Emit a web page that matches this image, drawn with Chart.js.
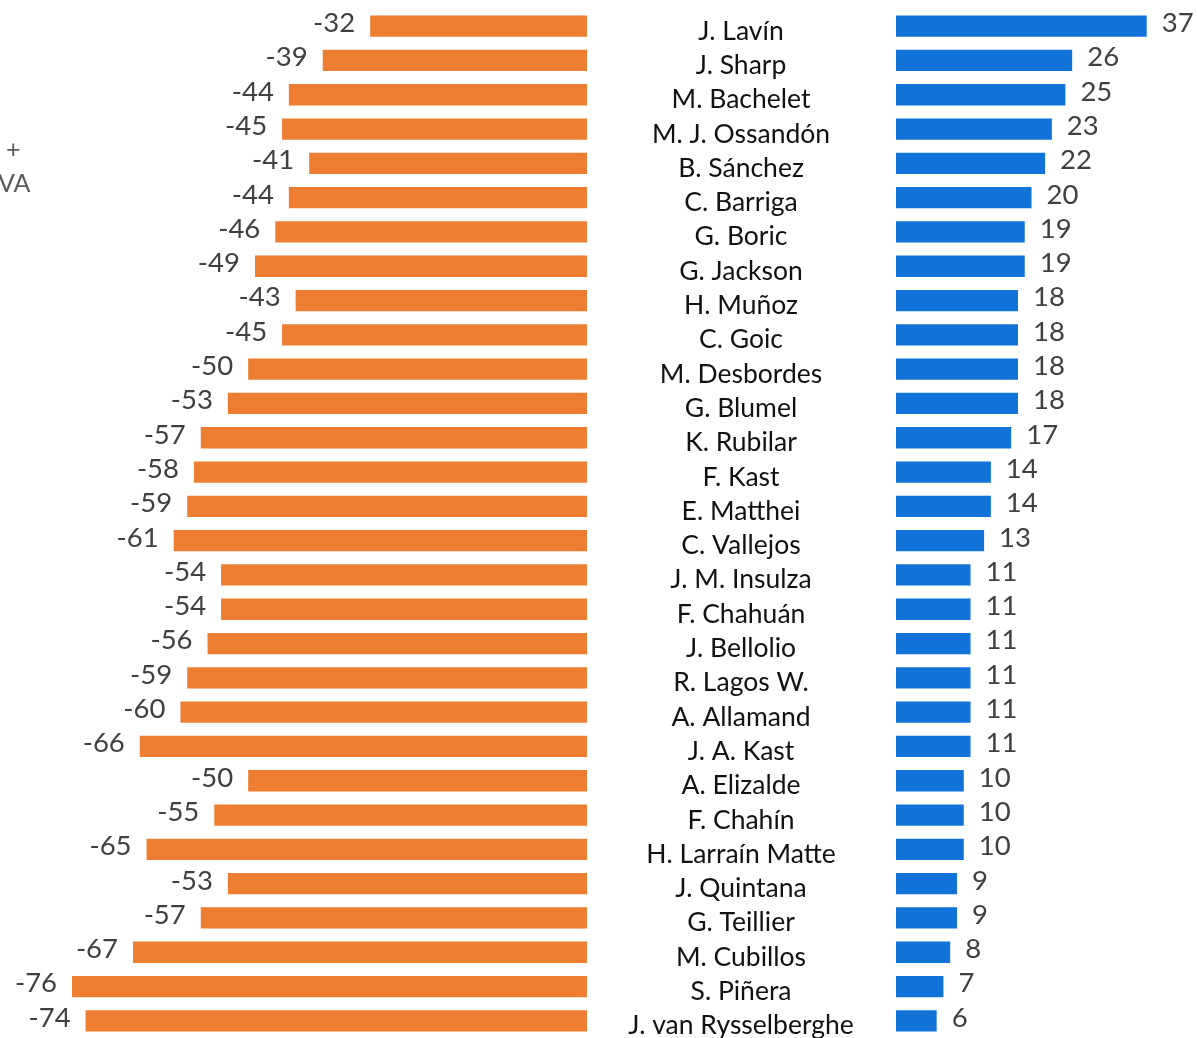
<!DOCTYPE html>
<html>
<head>
<meta charset="utf-8">
<script src="https://cdn.jsdelivr.net/npm/chart.js@4/dist/chart.umd.min.js"></script>
<style>
  html, body { margin: 0; padding: 0; background: #fff; overflow: hidden; }
  #wrap { position: relative; width: 1197px; height: 1038px; }
  #negChart { position: absolute; left: 0; top: 0; }
  #posChart { position: absolute; left: 590px; top: 0; }
  .side { position: absolute; font-family: Lato, "Open Sans", sans-serif; color: #595959; font-size: 25px; }
</style>
</head>
<body>
<div id="wrap">
  <canvas id="negChart" width="590" height="1038"></canvas>
  <canvas id="posChart" width="607" height="1038"></canvas>
  <div class="side" style="left:6px; top:133px;">+</div>
  <div class="side" style="left:-2px; top:167px;">VA</div>
</div>
<script>
const names = [
  'J. Lavín', 'J. Sharp', 'M. Bachelet', 'M. J. Ossandón', 'B. Sánchez', 'C. Barriga',
  'G. Boric', 'G. Jackson', 'H. Muñoz', 'C. Goic', 'M. Desbordes', 'G. Blumel',
  'K. Rubilar', 'F. Kast', 'E. Matthei', 'C. Vallejos', 'J. M. Insulza', 'F. Chahuán',
  'J. Bellolio', 'R. Lagos W.', 'A. Allamand', 'J. A. Kast', 'A. Elizalde', 'F. Chahín',
  'H. Larraín Matte', 'J. Quintana', 'G. Teillier', 'M. Cubillos', 'S. Piñera', 'J. van Rysselberghe',
];
const negatives = [
  -32, -39, -44, -45, -41, -44, -46, -49, -43, -45, -50, -53, -57, -58, -59,
  -61, -54, -54, -56, -59, -60, -66, -50, -55, -65, -53, -57, -67, -76, -74,
];
const positives = [
  37, 26, 25, 23, 22, 20, 19, 19, 18, 18, 18, 18, 17, 14, 14,
  13, 11, 11, 11, 11, 11, 11, 10, 10, 10, 9, 9, 8, 7, 6,
];

const ORANGE = '#ED7D31';
const BLUE = '#1172D8';
const FONT = 'Lato, "Open Sans", sans-serif';

// draws the number at the outer end of each bar
const valueLabels = {
  id: 'valueLabels',
  afterDatasetsDraw(chart) {
    const { ctx } = chart;
    const meta = chart.getDatasetMeta(0);
    const data = chart.data.datasets[0].data;
    ctx.save();
    ctx.font = `27.5px ${FONT}`;
    ctx.fillStyle = '#404040';
    ctx.textBaseline = 'middle';
    meta.data.forEach((bar, i) => {
      const v = data[i];
      if (v < 0) {
        ctx.textAlign = 'right';
        ctx.fillText(String(v), bar.x - 15, bar.y - 3);
      } else {
        ctx.textAlign = 'left';
        ctx.fillText(String(v), bar.x + 15, bar.y - 3);
      }
    });
    ctx.restore();
  },
};

// names in the gap between the two charts, centred
const nameLabels = {
  id: 'nameLabels',
  afterDatasetsDraw(chart) {
    const { ctx } = chart;
    const meta = chart.getDatasetMeta(0);
    const cx = chart.chartArea.left / 2 - 2;
    ctx.save();
    ctx.font = `26.5px ${FONT}`;
    ctx.fillStyle = '#111';
    ctx.textAlign = 'center';
    ctx.textBaseline = 'middle';
    meta.data.forEach((bar, i) => {
      ctx.fillText(chart.data.labels[i], cx, bar.y + 5);
    });
    ctx.restore();
  },
};

const commonBar = {
  categoryPercentage: 1,
  barPercentage: 0.62,
};

new Chart(document.getElementById('negChart'), {
  type: 'bar',
  data: {
    labels: names,
    datasets: [{ data: negatives, backgroundColor: ORANGE, ...commonBar }],
  },
  options: {
    indexAxis: 'y',
    responsive: false,
    animation: false,
    layout: { padding: { top: 9, bottom: 0, left: 0, right: 3 } },
    plugins: { legend: { display: false }, tooltip: { enabled: false } },
    scales: {
      x: { min: -86.63, max: 0, display: false },
      y: { display: false },
    },
  },
  plugins: [valueLabels],
});

new Chart(document.getElementById('posChart'), {
  type: 'bar',
  data: {
    labels: names,
    datasets: [{ data: positives, backgroundColor: BLUE, ...commonBar }],
  },
  options: {
    indexAxis: 'y',
    responsive: false,
    animation: false,
    layout: { padding: { top: 9, bottom: 0, left: 306, right: 0 } },
    plugins: { legend: { display: false }, tooltip: { enabled: false } },
    scales: {
      x: { min: 0, max: 44.42, display: false },
      y: { display: false },
    },
  },
  plugins: [valueLabels, nameLabels],
});
</script>
</body>
</html>
